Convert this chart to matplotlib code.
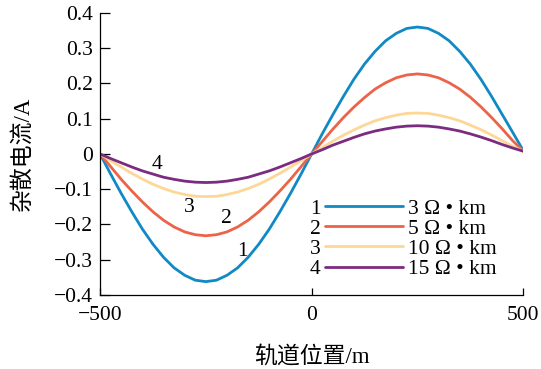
import matplotlib
matplotlib.use('Agg')

import matplotlib.pyplot as plt
import numpy as np

# ---- data (x step 25 m) ----
x_m = np.arange(-500, 501, 25)

i_3 = [0, -0.057, -0.112, -0.164, -0.213, -0.256, -0.293, -0.323, -0.344, -0.358, -0.362,
       -0.358, -0.344, -0.323, -0.293, -0.256, -0.213, -0.164, -0.112, -0.057, 0,
       0.057, 0.111, 0.163, 0.212, 0.255, 0.291, 0.321, 0.342, 0.356, 0.360,
       0.356, 0.342, 0.321, 0.291, 0.255, 0.212, 0.164, 0.113, 0.062, 0.010]
i_5 = [0, -0.036, -0.072, -0.105, -0.136, -0.164, -0.188, -0.207, -0.221, -0.229, -0.232,
       -0.229, -0.221, -0.207, -0.188, -0.164, -0.136, -0.105, -0.072, -0.036, 0,
       0.035, 0.070, 0.103, 0.133, 0.160, 0.184, 0.202, 0.216, 0.224, 0.227,
       0.224, 0.216, 0.202, 0.184, 0.161, 0.134, 0.104, 0.072, 0.038, 0.008]
i_10 = [0, -0.019, -0.037, -0.055, -0.071, -0.086, -0.098, -0.108, -0.115, -0.120, -0.121,
        -0.120, -0.115, -0.108, -0.098, -0.086, -0.071, -0.055, -0.037, -0.019, 0,
        0.018, 0.036, 0.053, 0.068, 0.082, 0.094, 0.103, 0.110, 0.115, 0.116,
        0.115, 0.110, 0.103, 0.094, 0.082, 0.069, 0.054, 0.038, 0.022, 0.008]
i_15 = [0, -0.013, -0.025, -0.037, -0.048, -0.057, -0.066, -0.072, -0.077, -0.080, -0.081,
        -0.080, -0.077, -0.072, -0.066, -0.057, -0.048, -0.037, -0.025, -0.013, 0,
        0.012, 0.025, 0.036, 0.047, 0.057, 0.065, 0.071, 0.076, 0.079, 0.080,
        0.079, 0.076, 0.071, 0.065, 0.057, 0.048, 0.038, 0.027, 0.017, 0.008]

series = [i_3, i_5, i_10, i_15]
nums = ['1', '2', '3', '4']
labels = ['3 Ω • km', '5 Ω • km', '10 Ω • km', '15 Ω • km']
colors = ['#1089c4', '#eb6447', '#fdd796', '#7b2b80']

# curve tags (x, y)
tag_x = [-164, -201, -289, -365]
tag_y = [-0.278, -0.182, -0.153, -0.031]

yticks = [-0.4, -0.3, -0.2, -0.1, 0, 0.1, 0.2, 0.3, 0.4]
yticklabels = ['−0.4', '−0.3', '−0.2', '−0.1', '0', '0.1', '0.2', '0.3', '0.4']
xticks = [-500, 0, 500]
xticklabels = ['−500', '0', '500']

serif = ['Liberation Serif', 'DejaVu Serif']
mixed = ['Liberation Serif', 'Noto Sans CJK SC']
FS = 15.5

fig = plt.figure(figsize=(5.41, 3.69), dpi=100)
ax = fig.add_axes([0.185, 0.2005, 0.782, 0.7645])

for ys, c in zip(series, colors):
    ax.plot(x_m, ys, color=c, lw=2.0, solid_capstyle='round')

for n, tx, ty in zip(nums, tag_x, tag_y):
    ax.text(tx, ty, n, fontsize=FS, family=serif, ha='center', va='center')

ax.set_xlim(-500, 500)
ax.set_ylim(-0.4, 0.4)
ax.set_xticks(xticks)
ax.set_xticklabels(xticklabels, family=serif, fontsize=FS)
ax.set_yticks(yticks)
ax.set_yticklabels(yticklabels, family=serif, fontsize=FS)
ax.tick_params(axis='y', direction='in', length=7, width=0.9, pad=5)
ax.tick_params(axis='x', direction='in', length=5, width=0.9, pad=8)

for s in ['top', 'right']:
    ax.spines[s].set_visible(False)
for s in ['left', 'bottom']:
    ax.spines[s].set_linewidth(0.9)

ax.set_xlabel('轨道位置/m', family=mixed, fontsize=16.5, labelpad=15)
ax.set_ylabel('杂散电流/A', family=mixed, fontsize=16.5, labelpad=15)

# legend with numbered rows
leg = ax.legend(labels, loc='upper left', bbox_to_anchor=(0.532, 0.341),
                frameon=False, prop={'family': serif, 'size': FS},
                handlelength=3.6, handletextpad=0.25, labelspacing=0.0,
                borderpad=0, borderaxespad=0)

fig.canvas.draw()
inv = ax.transAxes.inverted()
for n, t in zip(nums, leg.get_texts()):
    bb = t.get_window_extent()
    yc = inv.transform((0, (bb.y0 + bb.y1) / 2))[1]
    ax.text(0.508, yc, n, transform=ax.transAxes,
            fontsize=FS, family=serif, ha='center', va='center')

fig.savefig('out.png', dpi=100)
